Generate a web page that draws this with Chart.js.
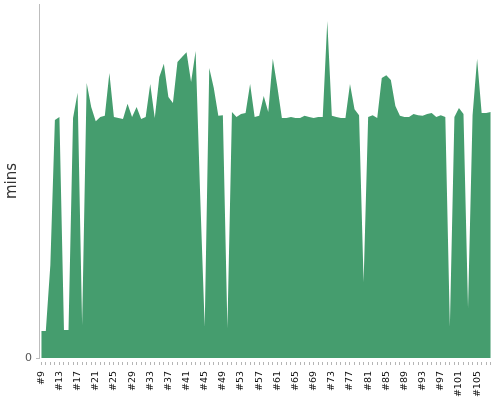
<!DOCTYPE html>
<html>
<head>
<meta charset="utf-8">
<script src="https://cdn.jsdelivr.net/npm/chart.js@4/dist/chart.umd.min.js"></script>
<style>
  html, body { margin: 0; padding: 0; background: #fff; }
  #wrap { width: 500px; height: 400px; }
</style>
</head>
<body>
<div id="wrap"><canvas id="c" width="500" height="400"></canvas></div>
<script>
const buildLabels = [
  '#9','#10','#11','#12','#13','#14','#15','#16','#17','#18',
  '#19','#20','#21','#22','#23','#24','#25','#26','#27','#28',
  '#29','#30','#31','#32','#33','#34','#35','#36','#37','#38',
  '#39','#40','#41','#42','#43','#44','#45','#46','#47','#48',
  '#49','#50','#51','#52','#53','#54','#55','#56','#57','#58',
  '#59','#60','#61','#62','#63','#64','#65','#66','#67','#68',
  '#69','#70','#71','#72','#73','#74','#75','#76','#77','#78',
  '#79','#80','#81','#82','#83','#84','#85','#86','#87','#88',
  '#89','#90','#91','#92','#93','#94','#95','#96','#97','#98',
  '#99','#100','#101','#102','#103','#104','#105','#106','#107','#108'
];

const durationMins = [
  7.6, 7.6, 26.3, 67.2, 68.1, 7.9, 7.9, 67.8, 74.9, 9.3,
  77.7, 70.9, 66.9, 68.1, 68.4, 80.5, 68.1, 67.8, 67.5, 71.8,
  68.1, 70.9, 67.5, 68.1, 77.4, 67.8, 79.4, 83.1, 73.7, 72.0,
  83.6, 85.0, 86.4, 78.0, 86.7, 46.0, 8.8, 81.9, 76.3, 68.4,
  68.6, 8.5, 69.5, 68.1, 68.9, 69.2, 77.4, 68.1, 68.4, 74.0,
  69.5, 84.5, 76.6, 67.8, 67.8, 68.1, 67.8, 67.8, 68.4, 68.1,
  67.8, 68.1, 68.1, 95.2, 68.4, 68.1, 67.8, 67.8, 77.4, 70.3,
  68.6, 21.5, 68.1, 68.6, 67.8, 79.1, 79.9, 78.5, 71.2, 68.4,
  68.1, 68.1, 68.9, 68.6, 68.4, 68.9, 69.2, 68.1, 68.6, 68.1,
  8.8, 68.1, 70.6, 68.9, 14.1, 68.6, 84.5, 69.2, 69.2, 69.5
];

const yTickValues = [0];
const yAxisTitle = 'mins';

new Chart(document.getElementById('c'), {
  type: 'line',
  data: {
    labels: buildLabels,
    datasets: [{
      data: durationMins,
      fill: 'origin',
      backgroundColor: '#459d6e',
      borderWidth: 0,
      borderColor: 'rgba(0,0,0,0)',
      pointRadius: 0,
      tension: 0
    }]
  },
  options: {
    responsive: false,
    animation: false,
    events: [],
    layout: { padding: { top: 4, right: 7, left: 0, bottom: 0 } },
    plugins: { legend: { display: false }, tooltip: { enabled: false } },
    scales: {
      x: {
        type: 'category',
        offset: true,
        border: { display: false },
        grid: {
          offset: false,
          drawOnChartArea: false,
          drawTicks: true,
          tickLength: 7,
          tickBorderDash: [0, 4, 3, 10],
          color: '#b5b5b5'
        },
        ticks: {
          autoSkip: false,
          maxRotation: 90,
          minRotation: 90,
          padding: 6,
          color: '#111',
          font: { family: 'DejaVu Sans', size: 9.5 },
          callback: function(v, i) { return i % 4 === 0 ? buildLabels[i] : ''; }
        },
        afterFit: function(s) { s.height = 42; s.paddingLeft = 0; s.paddingRight = 0; }
      },
      y: {
        min: 0,
        max: 100,
        border: { display: true, color: '#bdbdbd', width: 1 },
        grid: { drawOnChartArea: false, tickLength: 3, color: '#bdbdbd' },
        ticks: {
          padding: 4,
          color: '#555',
          font: { family: 'DejaVu Sans', size: 11 }
        },
        afterBuildTicks: function(s) { s.ticks = yTickValues.map(v => ({ value: v })); },
        title: {
          display: true,
          text: yAxisTitle,
          color: '#333',
          font: { family: 'DejaVu Sans', size: 15 },
          padding: { top: 3, bottom: 0 }
        },
        afterFit: function(s) { s.width = 39; s.paddingTop = 0; s.paddingBottom = 0; }
      }
    }
  }
});
</script>
</body>
</html>
